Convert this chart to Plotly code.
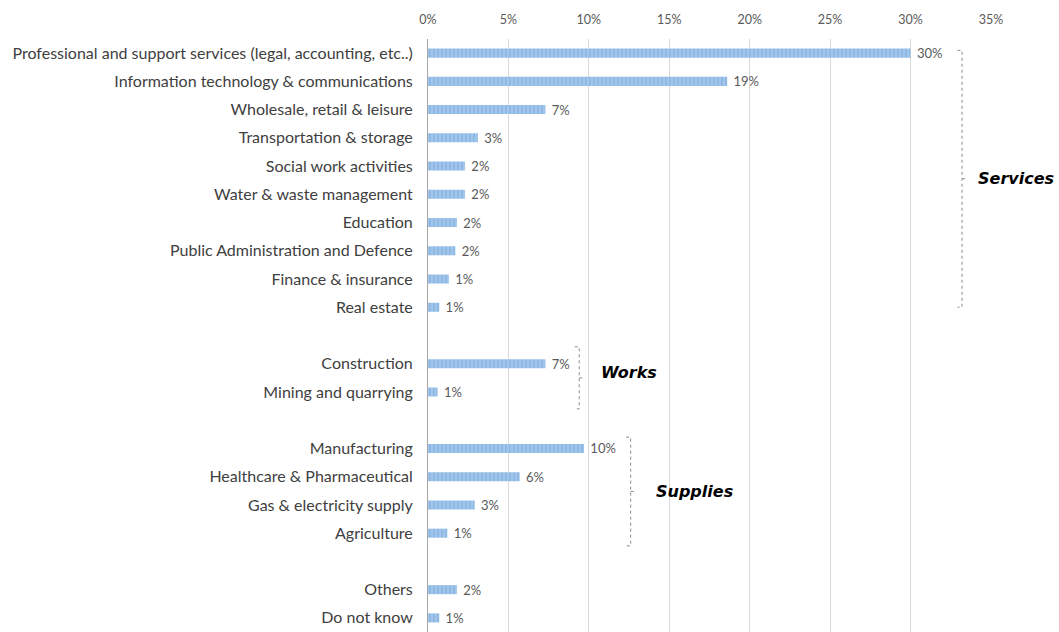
import plotly.graph_objects as go

# Sector groups (top to bottom) and share of respondents
services = [
    "Professional and support services (legal, accounting, etc..)",
    "Information technology & communications",
    "Wholesale, retail & leisure",
    "Transportation & storage",
    "Social work activities",
    "Water & waste management",
    "Education",
    "Public Administration and Defence",
    "Finance & insurance",
    "Real estate",
]
services_share = [0.300, 0.186, 0.073, 0.031, 0.023, 0.023, 0.018, 0.017, 0.013, 0.007]

works = ["Construction", "Mining and quarrying"]
works_share = [0.073, 0.006]

supplies = ["Manufacturing", "Healthcare & Pharmaceutical", "Gas & electricity supply", "Agriculture"]
supplies_share = [0.097, 0.057, 0.029, 0.012]

other = ["Others", "Do not know"]
other_share = [0.018, 0.007]

x_ticks = [0, 0.05, 0.10, 0.15, 0.20, 0.25, 0.30, 0.35]

# Build the row list, leaving an empty row between groups
groups = [(services, services_share), (works, works_share),
          (supplies, supplies_share), (other, other_share)]
rows, vals = [], []
spans = []
for gi, (cats, shares) in enumerate(groups):
    if gi > 0:
        rows.append(" " * gi)
        vals.append(None)
    spans.append((len(rows), len(rows) + len(cats) - 1))
    rows.extend(cats)
    vals.extend(shares)

FONT = "Lato"
grey = "#595959"

fig = go.Figure(go.Bar(
    x=vals, y=rows, orientation="h",
    marker=dict(color="#a2c6eb", line=dict(width=0),
                pattern=dict(shape="|", fgcolor="#5f9ad6", size=4, solidity=0.3)),
    texttemplate="\u00a0%{x:.0%}", textposition="outside", constraintext="none",
    textfont=dict(color=grey, size=13, family=FONT),
    cliponaxis=False, width=0.32,
))


def brace(x, y0, y1, hook=0.0028):
    """Right-hand curly brace drawn as a dotted path between rows y0 and y1."""
    ym = (y0 + y1) / 2
    path = (f"M {x - hook},{y0} L {x},{y0} L {x},{y1} L {x - hook},{y1} "
            f"M {x},{ym} L {x + hook},{ym}")
    fig.add_shape(type="path", path=path, xref="x", yref="y",
                  line=dict(color="#8c8c8c", width=1, dash="dot"))
    return ym


labels = [("Services", spans[0], 0.332, -0.1, 0.0, 0.0085, 0.0),
          ("Works", spans[1], 0.094, -0.6, 0.6, 0.0125, 0.2),
          ("Supplies", spans[2], 0.126, -0.4, 0.45, 0.0145, 0.0)]
for text, (a, b), bx, pad0, pad1, tx, ty in labels:
    ym = brace(bx, a + pad0, b + pad1)
    fig.add_annotation(x=bx + tx, y=ym - ty, text=f"<b><i>{text}</i></b>",
                       xref="x", yref="y", xanchor="left", showarrow=False,
                       font=dict(family="DejaVu Sans", size=16, color="#000000"))

fig.update_layout(
    width=1059, height=632,
    margin=dict(l=428, r=68, t=39, b=0),
    paper_bgcolor="white", plot_bgcolor="white",
    showlegend=False, bargap=0.7,
    font=dict(family=FONT, color="#404040"),
)
fig.update_xaxes(
    side="top", range=[0, 0.35], tickvals=x_ticks, tickformat=".0%",
    showgrid=True, gridcolor="#d9d9d9", gridwidth=1, zeroline=False,
    showline=False, tickfont=dict(size=12.5, color=grey, family=FONT), ticklabelstandoff=12,
)
fig.update_yaxes(
    categoryorder="array", categoryarray=rows, range=[len(rows) - 0.5, -0.5],
    showgrid=False, showline=True, linecolor="#a6a6a6", linewidth=1,
    tickfont=dict(size=16, color="#404040", family=FONT), ticklabelstandoff=11,
)

fig.write_html("out.html")
